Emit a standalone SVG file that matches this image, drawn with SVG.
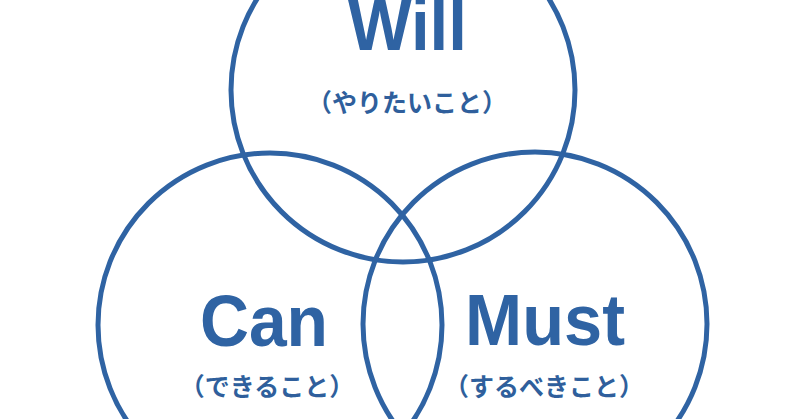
<svg xmlns="http://www.w3.org/2000/svg" width="800" height="419" viewBox="0 0 800 419">
<style>
.c{fill:none;stroke:#2f63a3;stroke-width:5}
.t{font-family:"Liberation Sans",Arial,sans-serif;font-weight:bold;font-size:72px;fill:#2f63a3;text-anchor:middle}
.s{font-family:"Noto Sans CJK JP",sans-serif;font-weight:bold;font-size:25px;fill:#2f5f9c;text-anchor:middle}
</style>
<rect width="800" height="419" fill="#ffffff"/>
<g id="will">
<circle class="c" cx="403" cy="90" r="172"/>
<text class="t" x="407.5" y="50" textLength="119" lengthAdjust="spacingAndGlyphs">Will</text>
<text class="s" x="407" y="112">（やりたいこと）</text>
</g>
<g id="can">
<circle class="c" cx="270" cy="325" r="172"/>
<text class="t" x="264" y="346" textLength="128" lengthAdjust="spacingAndGlyphs">Can</text>
<text class="s" x="267" y="396">（できること）</text>
</g>
<g id="must">
<circle class="c" cx="535" cy="324" r="172"/>
<text class="t" x="545" y="345" textLength="160" lengthAdjust="spacingAndGlyphs">Must</text>
<text class="s" x="544" y="396">（するべきこと）</text>
</g>
<g id="connectors"></g>
</svg>
